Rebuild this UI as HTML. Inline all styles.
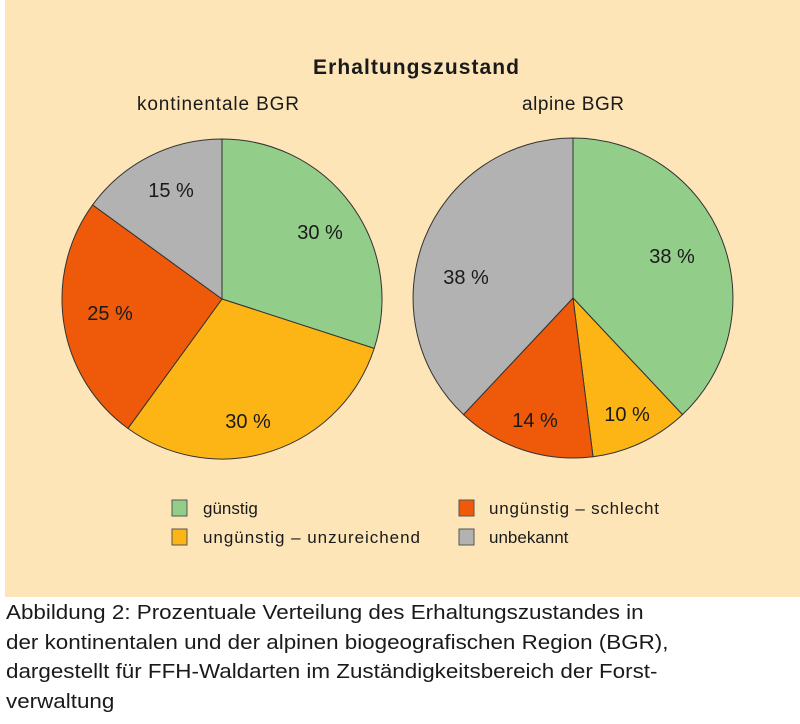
<!DOCTYPE html>
<html><head><meta charset="utf-8"><style>
body{margin:0;background:#fff;width:800px;height:724px;overflow:hidden;font-family:"Liberation Sans",sans-serif}
.cap{position:absolute;left:6px;top:599px;font-size:20px;line-height:29.5px;color:#1a1a1a;transform:scaleX(1.12);transform-origin:0 0;white-space:nowrap}
</style></head><body>
<svg width="800" height="724" style="position:absolute;left:0;top:0" font-family="Liberation Sans, sans-serif">
<rect x="5" y="0" width="795" height="597" fill="#fde5b8"/>
<text x="416" y="74" text-anchor="middle" font-size="21" font-weight="bold" fill="#1a1a1a" textLength="206">Erhaltungszustand</text>
<text x="218" y="110" text-anchor="middle" font-size="19" fill="#1a1a1a" textLength="162">kontinentale BGR</text>
<text x="573" y="110" text-anchor="middle" font-size="19" fill="#1a1a1a" textLength="102">alpine BGR</text>
<g stroke="#333" stroke-width="1">
<path d="M222,299 L222,139 A160,160 0 0 1 374.2,348.4 Z" fill="#93cd8a"/>
<path d="M222,299 L374.2,348.4 A160,160 0 0 1 127.9,428.4 Z" fill="#fdb515"/>
<path d="M222,299 L127.9,428.4 A160,160 0 0 1 92.6,204.9 Z" fill="#ef5a0a"/>
<path d="M222,299 L92.6,204.9 A160,160 0 0 1 222,139 Z" fill="#b2b2b2"/>
<path d="M573,298 L573,138 A160,160 0 0 1 682.5,414.6 Z" fill="#93cd8a"/>
<path d="M573,298 L682.5,414.6 A160,160 0 0 1 593,456.7 Z" fill="#fdb515"/>
<path d="M573,298 L593,456.7 A160,160 0 0 1 463.5,414.6 Z" fill="#ef5a0a"/>
<path d="M573,298 L463.5,414.6 A160,160 0 0 1 573,138 Z" fill="#b2b2b2"/>
</g>
<g font-size="20" fill="#1a1a1a" text-anchor="middle">
<text x="320" y="239">30 %</text>
<text x="248" y="428">30 %</text>
<text x="110" y="320">25 %</text>
<text x="171" y="197">15 %</text>
<text x="672" y="263">38 %</text>
<text x="627" y="421">10 %</text>
<text x="535" y="427">14 %</text>
<text x="466" y="284">38 %</text>
</g>
<g stroke="#555" stroke-width="1">
<rect x="172" y="500" width="15" height="16" fill="#93cd8a"/>
<rect x="172" y="529" width="15" height="16" fill="#fdb515"/>
<rect x="459" y="500" width="15" height="16" fill="#ef5a0a"/>
<rect x="459" y="529" width="15" height="16" fill="#b2b2b2"/>
</g>
<g font-size="17" fill="#1a1a1a">
<text x="203" y="514">günstig</text>
<text x="203" y="543" textLength="217">ungünstig – unzureichend</text>
<text x="489" y="514" textLength="170">ungünstig – schlecht</text>
<text x="489" y="543">unbekannt</text>
</g>
</svg>
<div class="cap">Abbildung 2: Prozentuale Verteilung des Erhaltungszustandes in<br>der kontinentalen und der alpinen biogeografischen Region (BGR),<br>dargestellt für FFH-Waldarten im Zuständigkeitsbereich der Forst-<br>verwaltung</div>
</body></html>
